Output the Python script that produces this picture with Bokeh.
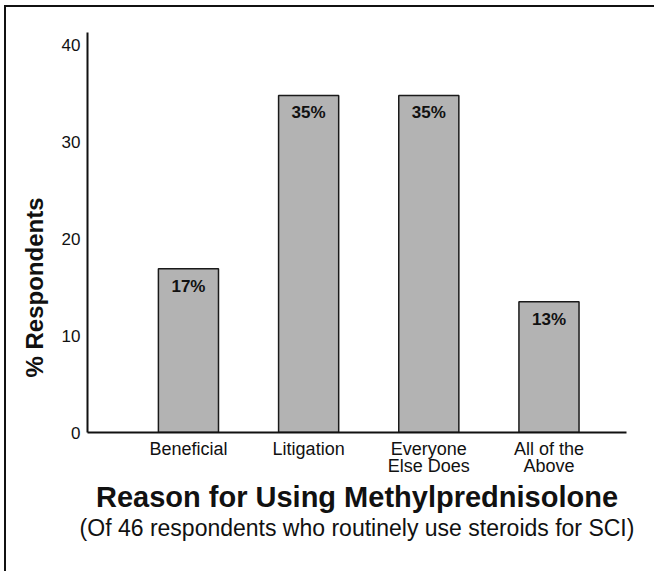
from bokeh.plotting import figure
from bokeh.models import ColumnDataSource, FixedTicker, Title, Range1d
from bokeh.embed import file_html
from bokeh.resources import INLINE

categories = ["Beneficial", "Litigation", "Everyone\nElse Does", "All of the\nAbove"]
positions = [1, 2, 3, 4]
values = [16.9, 34.8, 34.8, 13.5]
bar_labels = ["17%", "35%", "35%", "13%"]
y_ticks = [0, 10, 20, 30, 40]

FONT = "Liberation Sans"

p = figure(width=650, height=566, output_backend="svg", toolbar_location=None,
           x_range=Range1d(0.16, 4.645), y_range=Range1d(0, 41.3),
           min_border_left=81, min_border_top=25, min_border_right=30, min_border_bottom=141,
           styles={"border-top": "2px solid #111", "border-left": "2px solid #111",
                   "margin-left": "4px", "margin-top": "5px"})
p.outline_line_color = None
p.grid.grid_line_color = None
p.background_fill_color = "white"
p.border_fill_color = "white"

src = ColumnDataSource(dict(x=positions, top=values, label=bar_labels))
p.vbar(x="x", top="top", width=0.5, bottom=0, source=src,
       fill_color="#b3b3b3", line_color="#1a1a1a", line_width=1.5)
p.text(x="x", y="top", text="label", source=src, text_align="center",
       text_baseline="top", y_offset=8, text_font_size="17px",
       text_font_style="bold", text_color="#111", text_font={"value": FONT})

# y axis
p.yaxis.ticker = FixedTicker(ticks=y_ticks)
p.yaxis.major_tick_line_color = None
p.yaxis.minor_tick_line_color = None
p.yaxis.major_tick_out = 0
p.yaxis.minor_tick_out = 0
p.yaxis.axis_line_width = 2
p.yaxis.axis_line_color = "#111"
p.yaxis.major_label_text_font = FONT
p.yaxis.major_label_text_font_size = "17px"
p.yaxis.major_label_text_color = "#111"
p.yaxis.major_label_standoff = 7

ylab = Title(text="% Respondents", align="left", offset=55,
             text_font=FONT, text_font_size="24px", text_font_style="bold",
             text_color="#111", standoff=22)
p.add_layout(ylab, "left")

# x axis
p.xaxis.ticker = FixedTicker(ticks=positions)
p.xaxis.major_label_overrides = {pos: cat for pos, cat in zip(positions, categories)}
p.xaxis.major_tick_line_color = None
p.xaxis.minor_tick_line_color = None
p.xaxis.major_tick_out = 0
p.xaxis.minor_tick_out = 0
p.xaxis.axis_line_width = 2
p.xaxis.axis_line_color = "#111"
p.xaxis.major_label_text_font = FONT
p.xaxis.major_label_text_font_size = "18px"
p.xaxis.major_label_text_line_height = 0.85
p.xaxis.major_label_text_color = "#111"
p.xaxis.major_label_standoff = 6
p.xaxis.axis_label = "Reason for Using Methylprednisolone"
p.xaxis.axis_label_text_font = FONT
p.xaxis.axis_label_text_font_size = "29px"
p.xaxis.axis_label_text_line_height = 0.9
p.xaxis.axis_label_text_font_style = "bold"
p.xaxis.axis_label_text_color = "#111"
p.xaxis.axis_label_standoff = 2

sub = Title(text="(Of 46 respondents who routinely use steroids for SCI)", align="center",
            text_font=FONT, text_font_size="23px", text_font_style="normal",
            text_line_height=0.9, text_color="#111", standoff=-6, offset=0)
p.add_layout(sub, "below")

open("out.html", "w").write(file_html(p, INLINE))
